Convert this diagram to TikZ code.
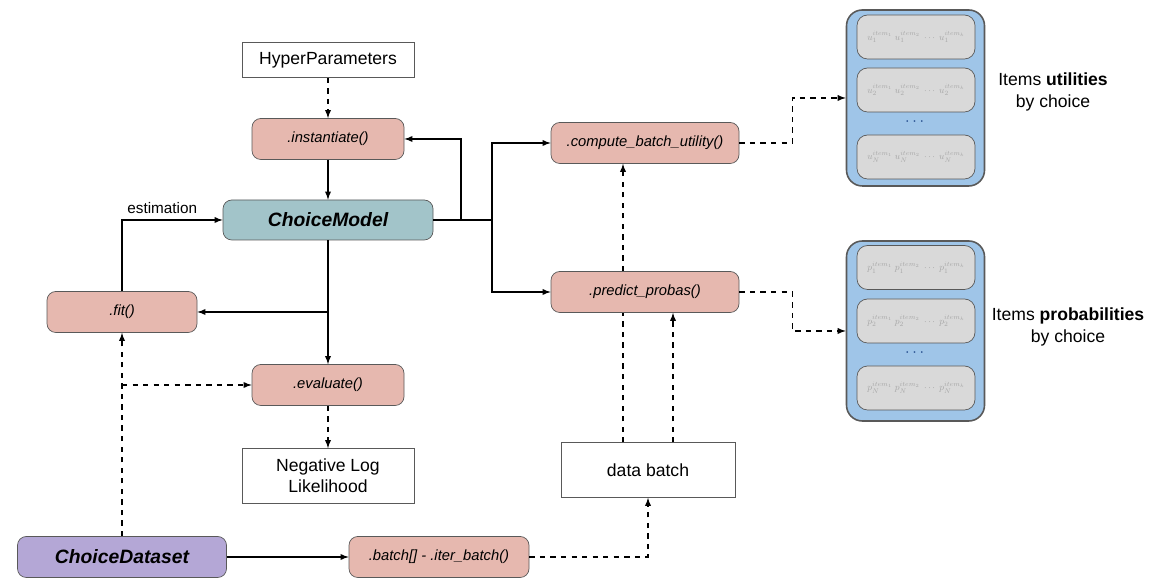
\documentclass[tikz,border=0pt]{standalone}
\usepackage{fontspec}
\setmainfont{Liberation Sans}
\usepackage{amsmath, amssymb}
\usepackage{graphicx}
\usepackage{tikz}
\usetikzlibrary{arrows,shapes}

\newcommand{\cellrow}[2]{\resizebox{1.95cm}{!}{$#1_{#2}^{item_1}\; #1_{#2}^{item_2}\;\cdots\; #1_{#2}^{item_k}$}}

\begin{document}
\begin{tikzpicture}

		\definecolor{methodred}{HTML}{E6B8AF}
		\definecolor{modelteal}{HTML}{A2C4C9}
		\definecolor{datapurple}{HTML}{B4A7D6}
		\definecolor{panelblue}{HTML}{9FC5E8}
		\definecolor{cellgray}{HTML}{D9D9D9}
		\definecolor{linegray}{HTML}{595959}
		\definecolor{dotblue}{HTML}{1C4587}
		
		\useasboundingbox (0,0) rectangle (23.16,11.76);
		
		\tikzstyle{edge} = [draw,-latex,line width=0.6pt]
		\tikzstyle{dashedge} = [draw,-latex,dashed,line width=0.6pt]
		
		\tikzset{textbox/.style = {shape=rectangle,draw=linegray,fill=white,minimum width=3.44cm,minimum height=0.7cm,inner sep=0pt,align=center,font=\fontsize{10}{12}\selectfont}}
		\node[textbox] (hyper) at  (6.56,10.56) {HyperParameters};
		\node[textbox,minimum height=1.1cm] (nll) at  (6.56,2.24) {Negative Log\\Likelihood};
		\node[textbox,minimum width=3.48cm,minimum height=1.1cm] (databatch) at  (12.96,2.36) {data batch};
		
		\tikzset{method/.style = {shape=rectangle,rounded corners=5pt,draw=linegray,fill=methodred,minimum width=3.04cm,minimum height=0.82cm,inner sep=0pt,font=\fontsize{8.4}{10}\selectfont\itshape}}
		\node[method] (inst) at  (6.56,8.98) {.instantiate()};
		\node[method,minimum width=3cm] (fit) at  (2.44,5.52) {.fit()};
		\node[method] (eval) at  (6.56,4.06) {.evaluate()};
		\node[method,minimum width=3.6cm] (batch) at  (8.78,0.62) {.batch[] - .iter\_batch()};
		\node[method,minimum width=3.76cm] (compute) at  (12.9,8.9) {.compute\_batch\_utility()};
		\node[method,minimum width=3.76cm] (predict) at  (12.9,5.92) {.predict\_probas()};
		
		\tikzset{method/.style = {shape=rectangle,rounded corners=5pt,draw=linegray,minimum height=0.82cm,inner sep=0pt,font=\fontsize{11}{13}\selectfont\bfseries\itshape}}
		\node[method,fill=modelteal,minimum width=4.2cm,minimum height=0.8cm] (cm) at  (6.56,7.36) {ChoiceModel};
		\node[method,fill=datapurple,minimum width=4.18cm] (dataset) at  (2.44,0.62) {ChoiceDataset};
		
		\tikzset{panel/.style = {shape=rectangle,rounded corners=9pt,draw=linegray,line width=0.9pt,fill=panelblue,minimum width=2.76cm,inner sep=0pt}}
		\node[panel,minimum height=3.52cm] (upanel) at  (18.31,9.8) {};
		\node[panel,minimum height=3.6cm] (ppanel) at  (18.31,5.14) {};
		
		\tikzset{cell/.style = {shape=rectangle,rounded corners=6pt,draw=linegray,fill=cellgray,minimum width=2.36cm,minimum height=0.88cm,inner sep=0pt,text=gray!70}}
		\node[cell] (u1) at  (18.32,11.02) {\cellrow{u}{1}};
		\node[cell] (u2) at  (18.32,9.96) {\cellrow{u}{2}};
		\node[cell] (un) at  (18.32,8.62) {\cellrow{u}{N}};
		\node[text=dotblue,font=\fontsize{9}{10}\selectfont] (udots) at  (18.32,9.32) {$\cdots$};
		\node[cell] (p1) at  (18.32,6.41) {\cellrow{p}{1}};
		\node[cell] (p2) at  (18.32,5.34) {\cellrow{p}{2}};
		\node[cell] (pn) at  (18.32,4.0) {\cellrow{p}{N}};
		\node[text=dotblue,font=\fontsize{9}{10}\selectfont] (pdots) at  (18.32,4.7) {$\cdots$};
		
		\node[align=center,font=\fontsize{10}{12}\selectfont] (ulabel) at  (21.06,9.92) {Items \textbf{utilities}\\by choice};
		\node[align=center,font=\fontsize{10}{12}\selectfont] (plabel) at  (21.36,5.22) {Items \textbf{probabilities}\\by choice};
		
		\coordinate (back) at (9.22,7.36);
		\coordinate (fork) at (9.84,7.36);
		\coordinate (fitjoin) at (6.56,5.52);
		\coordinate (evaljoin) at (2.44,4.06);
		\coordinate (ubatch) at (12.46,2.91);
		\coordinate (pbatch) at (13.46,2.91);
		
		\draw[dashedge] (hyper) to (inst);
		\draw[edge] (inst) to (cm);
		\draw[edge] (cm.east) -- (back) |- (inst.east);
		\draw[edge] (back) -- (fork) |- (compute.west);
		\draw[edge] (fork) |- (predict.west);
		\draw[edge] (cm) to (eval);
		\draw[edge] (fitjoin) to (fit.east);
		\draw[edge] (fit.north) |- node[above,pos=0.7,font=\fontsize{8.7}{10}\selectfont] {estimation} (cm.west);
		\draw[dashedge] (dataset) to (fit);
		\draw[dashedge] (evaljoin) to (eval.west);
		\draw[dashedge] (eval) to (nll);
		\draw[edge] (dataset) to (batch);
		\draw[dashedge] (batch.east) -| (databatch.south);
		\draw[dashed,line width=0.6pt] (ubatch) to (ubatch |- predict.south);
		\draw[dashedge] (ubatch |- predict.north) to (ubatch |- compute.south);
		\draw[dashedge] (pbatch) to (pbatch |- predict.south);
		\draw[dashedge] (compute.east) -- ++(1.06,0) |- (upanel.west);
		\draw[dashedge] (predict.east) -- ++(1.06,0) |- (ppanel.west);
		\end{tikzpicture}
\end{document}
